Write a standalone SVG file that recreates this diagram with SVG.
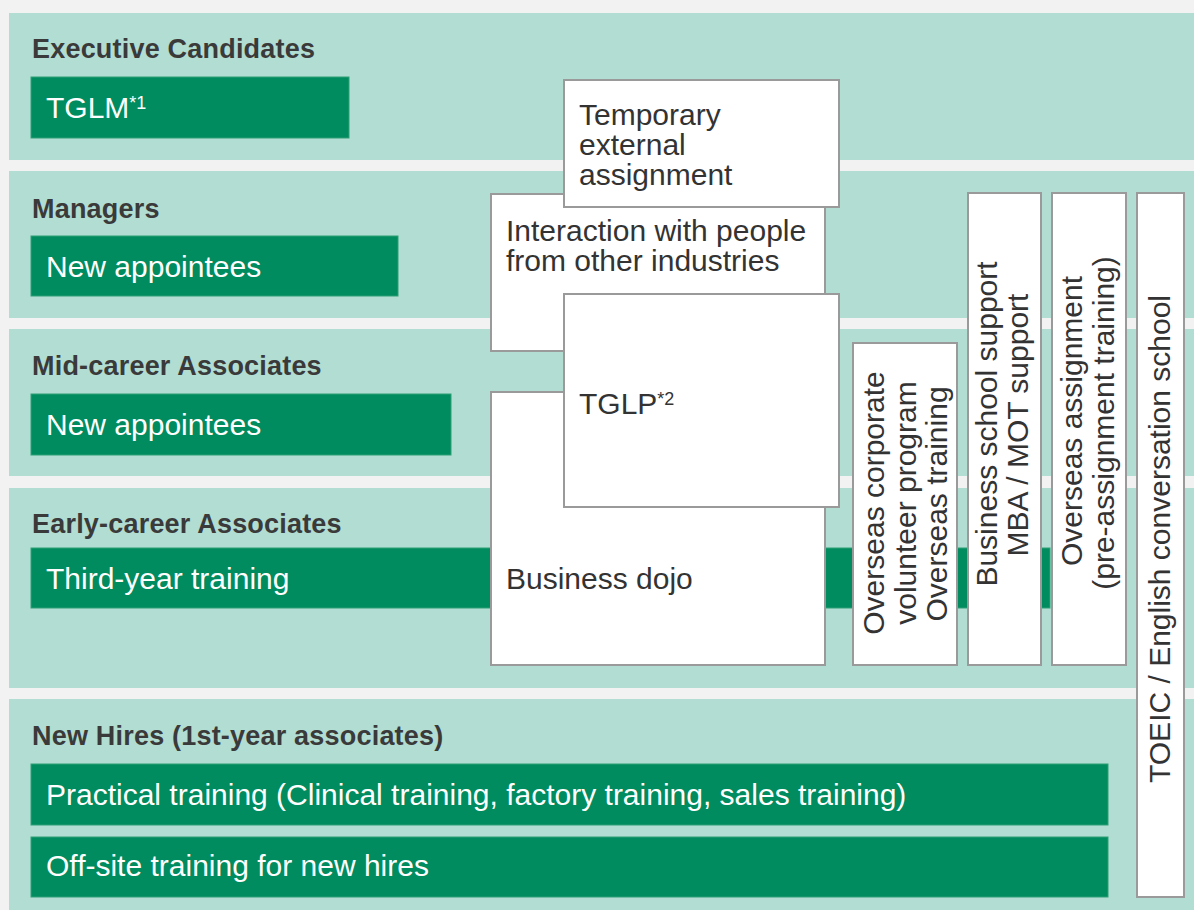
<svg xmlns="http://www.w3.org/2000/svg" width="1194" height="910" viewBox="0 0 1194 910">
<style>
.band{fill:#b2ddd2}
.g{fill:#008c5f;stroke:#2f9f76;stroke-width:1}
.w{fill:#ffffff;stroke:#9a9a9a;stroke-width:2}
.h{font-family:"Liberation Sans",Arial,sans-serif;font-weight:bold;font-size:27px;letter-spacing:0.2px;fill:#3a3a3a}
.gt{font-family:"Liberation Sans",Arial,sans-serif;font-size:30px;fill:#ffffff}
.t{font-family:"Liberation Sans",Arial,sans-serif;font-size:30px;fill:#333333}
.sup{font-size:18px}
</style>
<rect x="0" y="0" width="1194" height="910" fill="#f2f2f2"/>
<g id="bands">
<rect class="band" x="9" y="13" width="1185" height="147"/>
<rect class="band" x="9" y="171" width="1185" height="147"/>
<rect class="band" x="9" y="329" width="1185" height="147"/>
<rect class="band" x="9" y="488" width="1185" height="200"/>
<rect class="band" x="9" y="699" width="1185" height="211"/>
</g>
<g id="executive">
<text class="h" x="32" y="58">Executive Candidates</text>
<rect class="g" x="31" y="77" width="318" height="61"/>
<text class="gt" x="46" y="118">TGLM<tspan class="sup" dy="-9">*1</tspan></text>
</g>
<g id="managers">
<text class="h" x="32" y="218">Managers</text>
<rect class="g" x="31" y="236" width="367" height="60"/>
<text class="gt" x="46" y="277">New appointees</text>
</g>
<g id="midcareer">
<text class="h" x="32" y="375">Mid-career Associates</text>
<rect class="g" x="31" y="394" width="420" height="61"/>
<text class="gt" x="46" y="435">New appointees</text>
</g>
<g id="earlycareer">
<text class="h" x="32" y="533">Early-career Associates</text>
<rect class="g" x="31" y="548" width="1019" height="60"/>
<text class="gt" x="46" y="589">Third-year training</text>
</g>
<g id="newhires">
<text class="h" x="32" y="745">New Hires (1st-year associates)</text>
<rect class="g" x="31" y="764" width="1077" height="61"/>
<text class="gt" x="46" y="805">Practical training (Clinical training, factory training, sales training)</text>
<rect class="g" x="31" y="837" width="1077" height="60"/>
<text class="gt" x="46" y="876">Off-site training for new hires</text>
</g>
<g id="interaction">
<rect class="w" x="491" y="194" width="334" height="157"/>
<text class="t" x="506" y="241">Interaction with people</text>
<text class="t" x="506" y="271">from other industries</text>
</g>
<g id="temporary">
<rect class="w" x="564" y="80" width="275" height="127"/>
<text class="t" x="579" y="125">Temporary</text>
<text class="t" x="579" y="155">external</text>
<text class="t" x="579" y="185">assignment</text>
</g>
<g id="dojo">
<rect class="w" x="491" y="392" width="334" height="273"/>
<text class="t" x="506" y="589">Business dojo</text>
</g>
<g id="tglp">
<rect class="w" x="564" y="294" width="275" height="213"/>
<text class="t" x="579" y="414">TGLP<tspan class="sup" dy="-9">*2</tspan></text>
</g>
<g id="overseas-volunteer">
<rect class="w" x="853" y="343" width="104" height="322"/>
<text class="t" text-anchor="middle" transform="translate(884,503) rotate(-90)">Overseas corporate</text>
<text class="t" text-anchor="middle" transform="translate(916,503) rotate(-90)">volunteer program</text>
<text class="t" text-anchor="middle" transform="translate(947,504) rotate(-90)">Overseas training</text>
</g>
<g id="business-school">
<rect class="w" x="968" y="193" width="73" height="472"/>
<text class="t" text-anchor="middle" transform="translate(997,424) rotate(-90)">Business school support</text>
<text class="t" text-anchor="middle" transform="translate(1028,425) rotate(-90)">MBA / MOT support</text>
</g>
<g id="overseas-assignment">
<rect class="w" x="1052" y="193" width="74" height="472"/>
<text class="t" text-anchor="middle" transform="translate(1082,421) rotate(-90)">Overseas assignment</text>
<text class="t" text-anchor="middle" transform="translate(1114,423) rotate(-90)">(pre-assignment training)</text>
</g>
<g id="toeic">
<rect class="w" x="1137" y="193" width="47" height="704"/>
<text class="t" text-anchor="middle" transform="translate(1170,539) rotate(-90)">TOEIC / English conversation school</text>
</g>
<g id="connectors"></g>
</svg>
